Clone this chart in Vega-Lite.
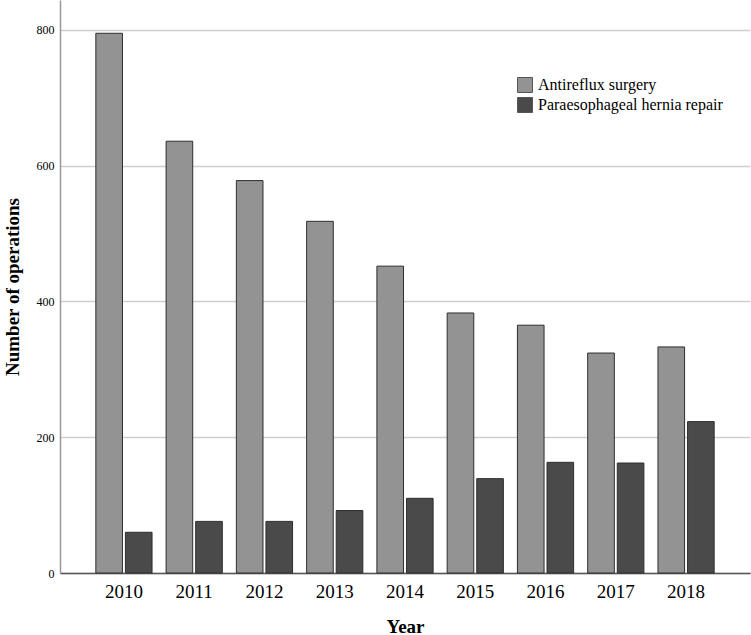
{
  "$schema": "https://vega.github.io/schema/vega-lite/v6.json",
  "width": 690,
  "height": 573,
  "autosize": {"type": "none"},
  "padding": {"left": 60, "top": 0, "right": 1, "bottom": 62},
  "background": "white",
  "config": {
    "view": {"stroke": null},
    "font": "Liberation Serif",
    "legend": {"labelFont": "Liberation Serif", "labelFontSize": 16, "labelColor": "#000"}
  },
  "data": {
    "values": [
      {"year": "2010", "type": "Antireflux surgery", "n": 795},
      {"year": "2010", "type": "Paraesophageal hernia repair", "n": 60},
      {"year": "2011", "type": "Antireflux surgery", "n": 636},
      {"year": "2011", "type": "Paraesophageal hernia repair", "n": 76},
      {"year": "2012", "type": "Antireflux surgery", "n": 578},
      {"year": "2012", "type": "Paraesophageal hernia repair", "n": 76},
      {"year": "2013", "type": "Antireflux surgery", "n": 518},
      {"year": "2013", "type": "Paraesophageal hernia repair", "n": 92},
      {"year": "2014", "type": "Antireflux surgery", "n": 452},
      {"year": "2014", "type": "Paraesophageal hernia repair", "n": 110},
      {"year": "2015", "type": "Antireflux surgery", "n": 383},
      {"year": "2015", "type": "Paraesophageal hernia repair", "n": 139},
      {"year": "2016", "type": "Antireflux surgery", "n": 365},
      {"year": "2016", "type": "Paraesophageal hernia repair", "n": 163},
      {"year": "2017", "type": "Antireflux surgery", "n": 324},
      {"year": "2017", "type": "Paraesophageal hernia repair", "n": 162},
      {"year": "2018", "type": "Antireflux surgery", "n": 333},
      {"year": "2018", "type": "Paraesophageal hernia repair", "n": 223}
    ]
  },
  "mark": {"type": "bar", "stroke": "#2e2e2e", "strokeWidth": 1},
  "encoding": {
    "x": {
      "field": "year",
      "type": "nominal",
      "scale": {"paddingInner": 0.2, "paddingOuter": 0.51},
      "axis": {
        "title": "Year",
        "titleFont": "Liberation Serif",
        "titleFontSize": 19,
        "titleFontWeight": "bold",
        "titleColor": "#000",
        "titlePadding": 16,
        "labelAngle": 0,
        "labelFont": "Liberation Serif",
        "labelFontSize": 19,
        "labelColor": "#000",
        "labelPadding": 9,
        "ticks": false,
        "domainColor": "#555",
        "domainWidth": 1.5
      }
    },
    "xOffset": {"field": "type", "type": "nominal", "scale": {"paddingInner": 0.1}},
    "y": {
      "field": "n",
      "type": "quantitative",
      "scale": {"domain": [0, 844], "nice": false},
      "axis": {
        "title": "Number of operations",
        "titleFont": "Liberation Serif",
        "titleFontSize": 19,
        "titleFontWeight": "bold",
        "titleColor": "#000",
        "titlePadding": 14,
        "values": [0, 200, 400, 600, 800],
        "labelFont": "Liberation Serif",
        "labelFontSize": 12,
        "labelColor": "#000",
        "labelPadding": 6,
        "ticks": false,
        "domainColor": "#999",
        "domainWidth": 1.5,
        "grid": true,
        "gridColor": "#cfcfcf",
        "gridWidth": 1.5
      }
    },
    "color": {
      "field": "type",
      "type": "nominal",
      "scale": {"range": ["#939393", "#4a4a4a"]},
      "legend": {
        "title": null,
        "orient": "none",
        "legendX": 457,
        "legendY": 77,
        "symbolType": "square",
        "symbolSize": 225,
        "symbolStrokeColor": "#555",
        "symbolStrokeWidth": 1,
        "labelFont": "Liberation Serif",
        "labelFontSize": 16,
        "labelColor": "#000",
        "labelOffset": 5,
        "labelLimit": 400,
        "rowPadding": 0,
        "padding": 0
      }
    }
  }
}
